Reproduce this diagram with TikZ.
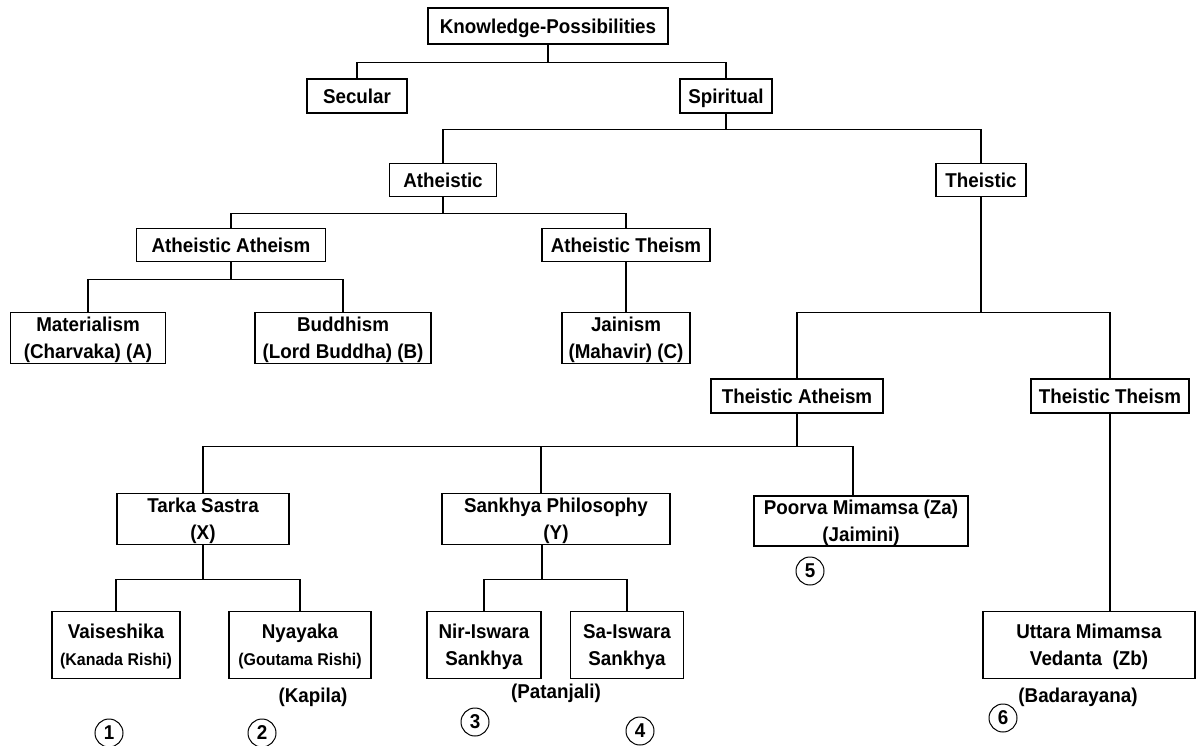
\documentclass[tikz,border=0pt]{standalone}
\usepackage{fontspec}
\setmainfont{Liberation Sans}[FakeStretch=0.94]
\usetikzlibrary{positioning}

\begin{document}
\begin{tikzpicture}[x=1pt,y=-1pt,
  every node/.style={font=\bfseries\fontsize{20}{27}\selectfont},
  box/.style={draw,line width=1.2pt,align=center,inner sep=0pt,text depth=0pt},
  numcirc/.style={draw,circle,line width=1pt,inner sep=0pt,minimum size=28pt},
  small/.style={font=\bfseries\fontsize{17}{27}\selectfont}]
  \useasboundingbox (0,0) rectangle (1196,746);
  % top levels
  \node[box,minimum width=240,minimum height=36] (know) at (548,26) {Knowledge-Possibilities};
  \node[box,minimum width=100,minimum height=34] (secular) at (357,96) {Secular};
  \node[box,minimum width=92,minimum height=34] (spiritual) at (726,96) {Spiritual};
  \node[box,minimum width=107,minimum height=33] (atheistic) at (443,180) {Atheistic};
  \node[box,minimum width=90,minimum height=33] (theistic) at (981,180) {Theistic};
  \node[box,minimum width=189,minimum height=33] (aa) at (231,245) {Atheistic Atheism};
  \node[box,minimum width=168,minimum height=33] (at) at (626,245) {Atheistic Theism};
  \node[box,minimum width=155,minimum height=51] (mat) at (88,338) {Materialism\\(Charvaka) (A)};
  \node[box,minimum width=176,minimum height=51] (bud) at (343,338) {Buddhism\\(Lord Buddha) (B)};
  \node[box,minimum width=128,minimum height=51] (jain) at (626,338) {Jainism\\(Mahavir) (C)};
  \node[box,minimum width=172,minimum height=34] (ta) at (797,396) {Theistic Atheism};
  \node[box,minimum width=158,minimum height=34] (tt) at (1110,396) {Theistic Theism};
  % schools
  \node[box,minimum width=172,minimum height=51] (tarka) at (203,519) {Tarka Sastra\\(X)};
  \node[box,minimum width=228,minimum height=51] (sankhya) at (556,519) {Sankhya Philosophy\\(Y)};
  \node[box,minimum width=214,minimum height=50] (poorva) at (861,521) {Poorva Mimamsa (Za)\\(Jaimini)};
  \node[box,minimum width=128,minimum height=67] (vai) at (116,645) {Vaiseshika\\{\fontsize{17}{27}\selectfont (Kanada Rishi)}};
  \node[box,minimum width=142,minimum height=67] (nya) at (300,645) {Nyayaka\\{\fontsize{17}{27}\selectfont (Goutama Rishi)}};
  \node[box,minimum width=114,minimum height=67] (nir) at (484,645) {Nir-Iswara\\Sankhya};
  \node[box,minimum width=113,minimum height=67] (sa) at (627,645) {Sa-Iswara\\Sankhya};
  \node[box,minimum width=212,minimum height=67] (utt) at (1089,645) {Uttara Mimamsa\\Vedanta~~(Zb)};
  % founders
  \node (kapila) at (313,697) {(Kapila)};
  \node (patanjali) at (556,693) {(Patanjali)};
  \node (badarayana) at (1078,697) {(Badarayana)};
  \node[numcirc] (c1) at (109,733) {1};
  \node[numcirc] (c2) at (262,733) {2};
  \node[numcirc] (c3) at (475,722) {3};
  \node[numcirc] (c4) at (640,731) {4};
  \node[numcirc] (c5) at (810,571) {5};
  \node[numcirc] (c6) at (1003,718) {6};
  % connectors
  \begin{scope}[line width=1.2pt]
    \draw (know.south) -- ++(0,18) -| (secular.north);
    \draw (know.south) -- ++(0,18) -| (spiritual.north);
    \draw (spiritual.south) -- ++(0,16) -| (atheistic.north);
    \draw (spiritual.south) -- ++(0,16) -| (theistic.north);
    \draw (atheistic.south) -- ++(0,16.5) -| (aa.north);
    \draw (atheistic.south) -- ++(0,16.5) -| (at.north);
    \draw (aa.south) -- ++(0,17.5) -| (mat.north);
    \draw (aa.south) -- ++(0,17.5) -| (bud.north);
    \draw (at.south) -- (jain.north);
    \draw (theistic.south) -- ++(0,115.5) -| (ta.north);
    \draw (theistic.south) -- ++(0,115.5) -| (tt.north);
    \draw (ta.south) -- ++(0,33) -| (tarka.north);
    \draw (ta.south) -- ++(0,33) -| ([xshift=-15pt]sankhya.north);
    \draw (ta.south) -- ++(0,33) -| ([xshift=-8pt]poorva.north);
    \draw (tt.south) -- (tt.south |- utt.north);
    \draw (tarka.south) -- ++(0,34.5) -| (vai.north);
    \draw (tarka.south) -- ++(0,34.5) -| (nya.north);
    \draw ([xshift=-14pt]sankhya.south) -- ++(0,34.5) -| (nir.north);
    \draw ([xshift=-14pt]sankhya.south) -- ++(0,34.5) -| (sa.north);
  \end{scope}
\end{tikzpicture}
\end{document}
